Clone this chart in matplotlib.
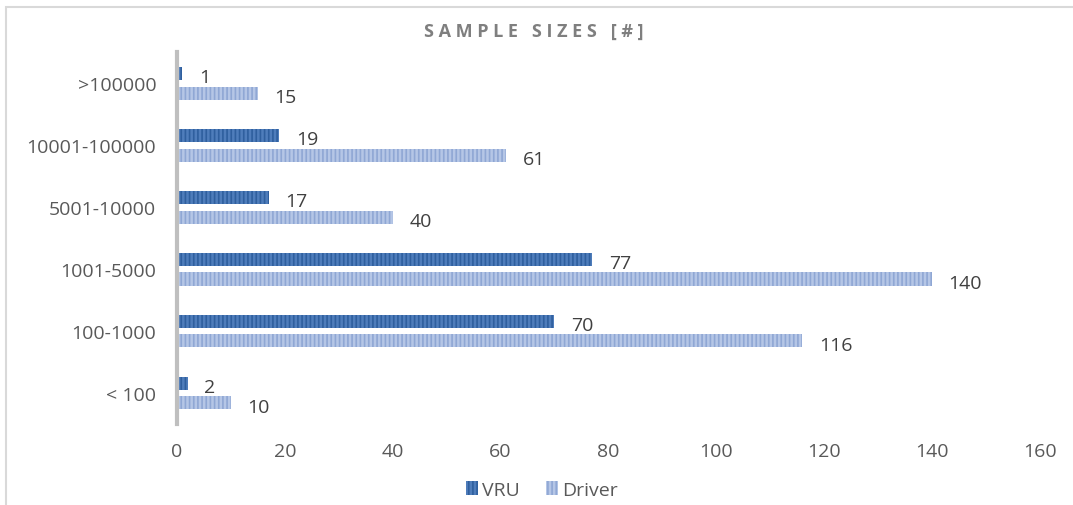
import numpy as np
import matplotlib
matplotlib.use("Agg")
from matplotlib import pyplot as plt
from matplotlib.patches import Rectangle

# sample size bins and counts per group
categories = ["< 100", "100-1000", "1001-5000", "5001-10000", "10001-100000", ">100000"]
vru = [2, 70, 77, 17, 19, 1]
driver = [10, 116, 140, 40, 61, 15]
xticks = [0, 20, 40, 60, 80, 100, 120, 140, 160]

plt.rcParams['font.family'] = ['Open Sans', 'DejaVu Sans']
plt.rcParams['hatch.linewidth'] = 1.2

fig = plt.figure(figsize=(10.73, 5.06), dpi=100)
ax = fig.add_axes([0.165, 0.160, 0.804, 0.735])

y = np.arange(len(categories))
h = 0.21
off = 0.16
b1 = ax.barh(y + off, vru, height=h, color="#4f7dbb", edgecolor="#2f5f9e",
             linewidth=0, hatch="||||")
b2 = ax.barh(y - off, driver, height=h, color="#b5c6e6", edgecolor="#8fa7d4",
             linewidth=0, hatch="||||")

for bars, vals in ((b1, vru), (b2, driver)):
    for bar, v in zip(bars, vals):
        ax.annotate(str(v), (v, bar.get_y() + bar.get_height() / 2),
                    xytext=(12, -3), textcoords="offset points",
                    ha="left", va="center", fontsize=14, color="#404040")

ax.set_xlim(0, 160)
ax.set_ylim(-0.5, 5.5)
ax.set_xticks(xticks)
ax.set_yticks(y)
ax.set_yticklabels(categories)
ax.tick_params(axis="both", length=0, labelsize=14, labelcolor="#595959")
ax.tick_params(axis="x", pad=13)
ax.tick_params(axis="y", pad=15)
for s in ("top", "right", "bottom"):
    ax.spines[s].set_visible(False)
ax.spines["left"].set_color("#bfbfbf")
ax.spines["left"].set_linewidth(3)

fig.text(0.497, 0.938, "S A M P L E   S I Z E S   [ # ]", ha="center", va="center",
         fontsize=13, fontweight="bold", color="#7f7f7f")

fig.legend([b1, b2], ["VRU", "Driver"], loc="center", bbox_to_anchor=(0.505, 0.030),
           ncol=2, frameon=False, fontsize=14, labelcolor="#595959",
           handlelength=0.6, handleheight=0.7, handletextpad=0.2, columnspacing=1.4)

# chart frame
fig.patches.append(Rectangle((6 / 1073, -0.1), 1.2, 1 - 7.5 / 506 + 0.1,
                             transform=fig.transFigure, fill=False,
                             edgecolor="#d9d9d9", linewidth=1.5))

fig.savefig("out.png", dpi=100)
plt.close("all")
